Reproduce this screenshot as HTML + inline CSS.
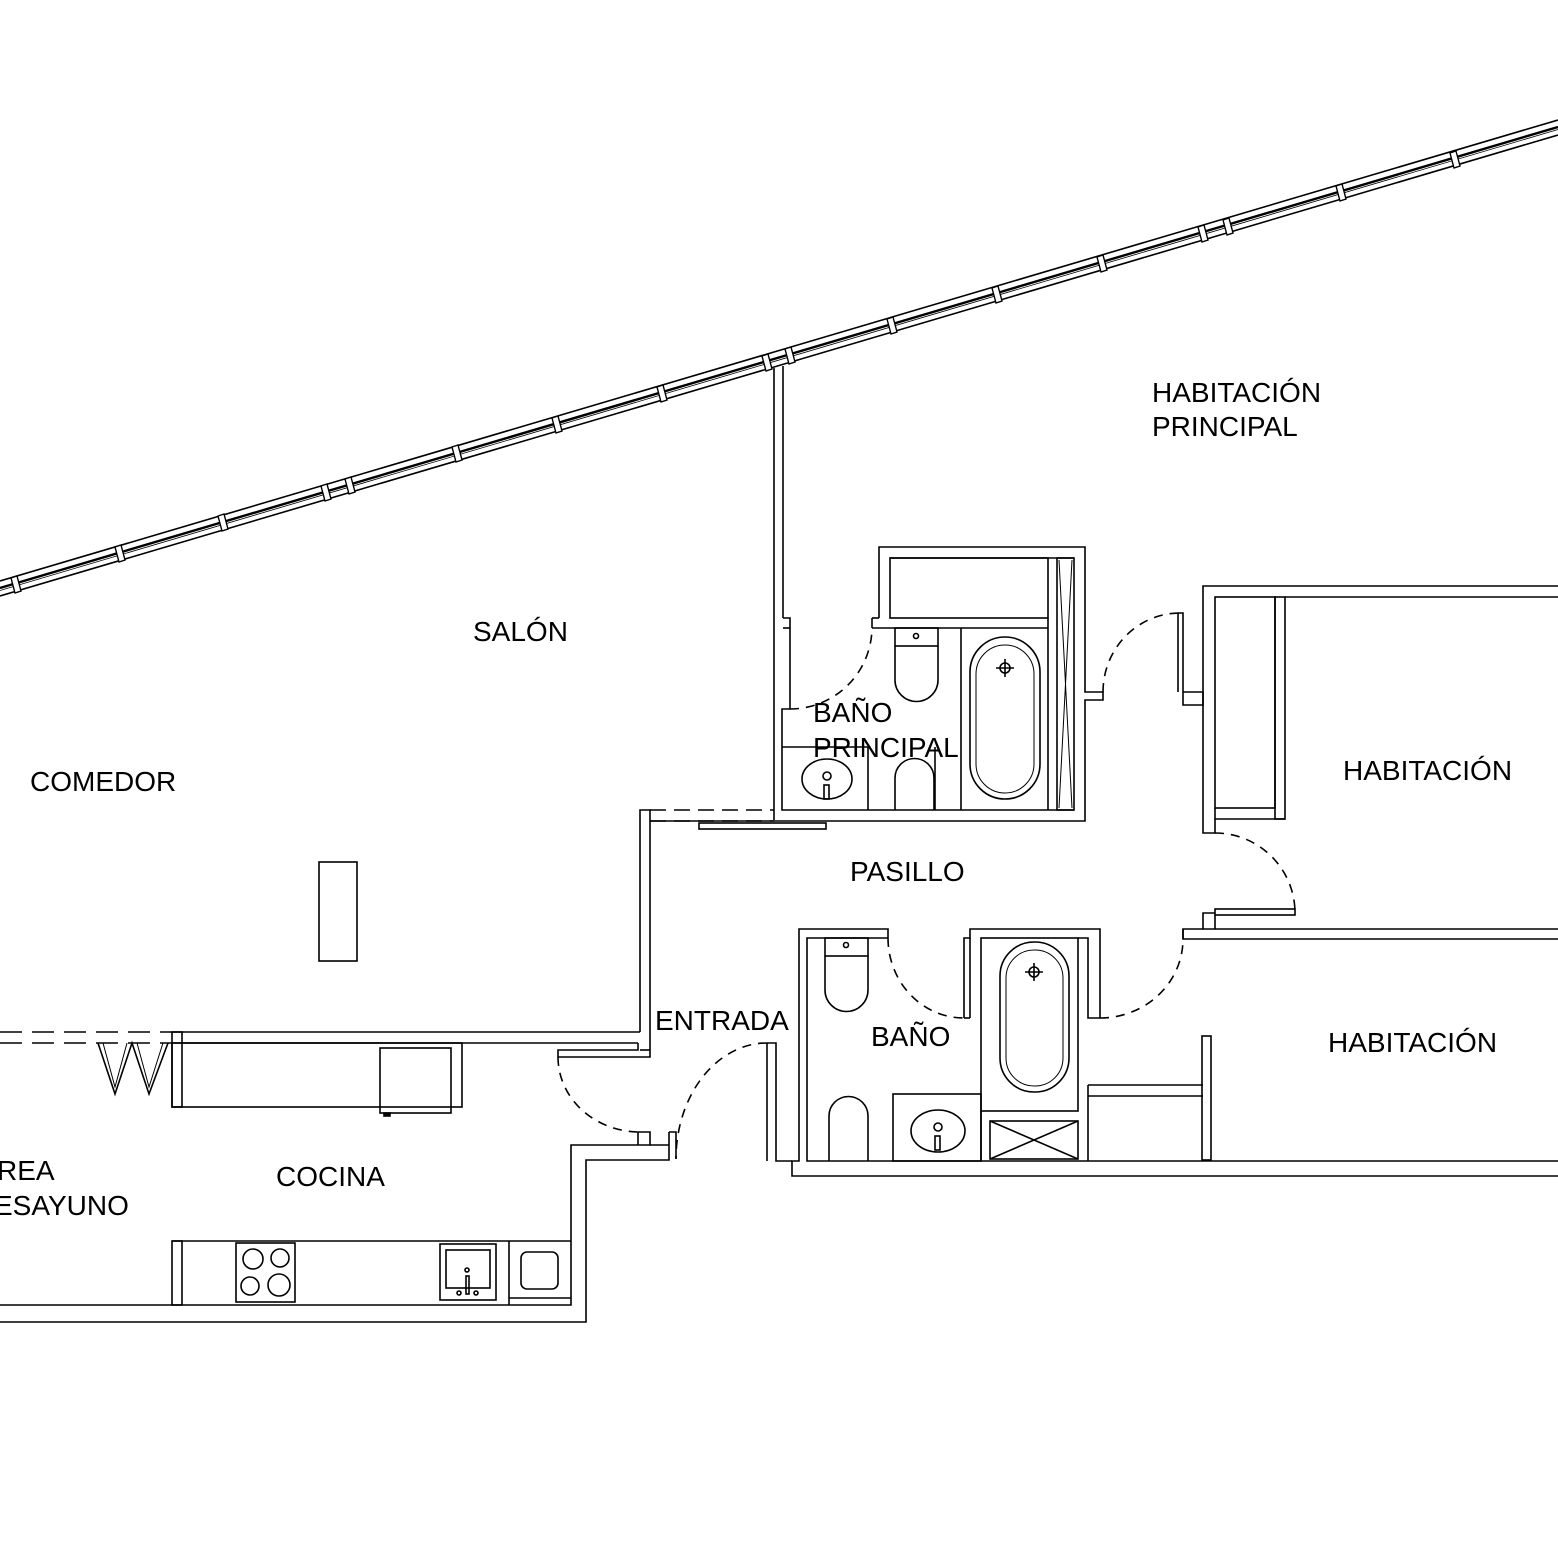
<!DOCTYPE html>
<html><head><meta charset="utf-8"><style>
html,body{margin:0;padding:0;background:#fff}
svg{display:block}
text{font-family:"Liberation Sans",Arial,sans-serif;font-size:28px;fill:#000}
</style></head><body>
<svg width="1558" height="1558" viewBox="0 0 1558 1558" xmlns="http://www.w3.org/2000/svg">
<g fill="none" stroke="#000" stroke-width="1.6">
<line x1="0" y1="581" x2="1558" y2="120"/>
<line x1="0" y1="596" x2="1558" y2="135"/>
<line x1="0" y1="588" x2="1558" y2="127" stroke-width="2.4"/>
<line x1="0" y1="590.5" x2="1558" y2="129.5" stroke-width="0.8"/>
</g>
<g fill="#fff" stroke="#000" stroke-width="1.4">
<polygon points="11,578 17,576 21,591 15,593"/>
<polygon points="115,547 121,545 125,560 119,562"/>
<polygon points="218,516 224,514 228,529 222,531"/>
<polygon points="321,486 327,484 331,499 325,501"/>
<polygon points="345,479 351,477 355,492 349,494"/>
<polygon points="452,447 458,445 462,460 456,462"/>
<polygon points="552,418 558,416 562,431 556,433"/>
<polygon points="657,387 663,385 667,400 661,402"/>
<polygon points="762,356 768,354 772,369 766,371"/>
<polygon points="785,349 791,347 795,362 789,364"/>
<polygon points="887,319 893,317 897,332 891,334"/>
<polygon points="992,288 998,286 1002,301 996,303"/>
<polygon points="1097,257 1103,255 1107,270 1101,272"/>
<polygon points="1198,227 1204,225 1208,240 1202,242"/>
<polygon points="1223,220 1229,218 1233,233 1227,235"/>
<polygon points="1336,186 1342,184 1346,199 1340,201"/>
<polygon points="1450,153 1456,151 1460,166 1454,168"/>
</g>
<g fill="none" stroke="#000" stroke-width="1.6">
<line x1="774" y1="368" x2="774" y2="820"/>
<line x1="783" y1="366" x2="783" y2="618"/>
<polyline points="783,618 790,618 790,709 782,709 782,810 868,810"/>
<line x1="783" y1="628" x2="790" y2="628"/>
<polyline points="879,618 879,547 1085,547 1085,692 1103,692 1103,700 1085,700 1085,821 650,821"/>
<polyline points="872,618 879,618"/>
<line x1="872" y1="618" x2="872" y2="628"/>
<line x1="872" y1="628" x2="1048" y2="628"/>
<line x1="890" y1="558" x2="1074" y2="558"/>
<rect x="890" y="558" width="158" height="60"/>
<rect x="1057" y="558" width="17" height="252"/>
<line x1="1059" y1="560" x2="1072" y2="808" stroke-width="1"/>
<line x1="1072" y1="560" x2="1059" y2="808" stroke-width="1"/>
<line x1="868" y1="810" x2="1074" y2="810"/>
<line x1="961" y1="628" x2="961" y2="810"/>
<line x1="1048" y1="618" x2="1048" y2="810"/>
<rect x="970" y="637" width="70" height="162" rx="35"/>
<rect x="976" y="645" width="58" height="148" rx="29" stroke-width="1"/>
<circle cx="1005" cy="668" r="5"/><line x1="996" y1="668" x2="1014" y2="668"/><line x1="1005" y1="659" x2="1005" y2="677"/>
<rect x="895" y="628" width="43" height="18"/>
<path d="M895,646 V680 A21.5,21.5 0 0 0 938,680 V646"/>
<circle cx="916" cy="636" r="2.5"/>
<line x1="782" y1="747" x2="868" y2="747"/>
<line x1="868" y1="747" x2="868" y2="810"/>
<line x1="935" y1="747" x2="935" y2="810"/>
<path d="M895,810 V778 A19.5,19.5 0 0 1 934,778 V810"/>
<ellipse cx="827" cy="779" rx="25" ry="20"/>
<circle cx="827" cy="776" r="4"/><rect x="824" y="785" width="5" height="14"/>
<path d="M790,709 A82,82 0 0 0 872,628" stroke-dasharray="9,7"/>
<line x1="650" y1="810" x2="774" y2="810" stroke-dasharray="16,8"/>
<line x1="650" y1="821" x2="774" y2="821" stroke-dasharray="16,8"/>
<rect x="699" y="823" width="127" height="6"/>
<polyline points="650,1050 650,810 640,810 640,1032"/>
<polyline points="1178,613 1183,613 1183,692 1203,692 1203,705 1183,705 1183,692"/>
<line x1="1178" y1="613" x2="1178" y2="692"/>
<path d="M1103,692 A77,79 0 0 1 1180,613" stroke-dasharray="9,7"/>
<polyline points="1203,705 1203,586 1558,586"/>
<line x1="1285" y1="597" x2="1558" y2="597"/>
<rect x="1215" y="597" width="60" height="211"/>
<rect x="1275" y="597" width="10" height="222"/>
<polyline points="1215,808 1215,819 1285,819"/>
<polyline points="1203,705 1203,833 1215,833 1215,819"/>
<path d="M1215,833 A80,80 0 0 1 1295,913" stroke-dasharray="9,7"/>
<rect x="1215" y="909" width="80" height="6"/>
<polyline points="1215,915 1215,929 1203,929 1203,913 1215,913"/>
<line x1="1215" y1="929" x2="1558" y2="929"/>
<polyline points="1203,929 1183,929 1183,939 1558,939"/>
<polyline points="888,938 807,938 807,1161 1078,1161"/>
<polyline points="888,938 888,929 799,929 799,1161 792,1161 792,1176 1558,1176"/>
<polyline points="964,1018 964,938 970,938 970,929 1100,929 1100,1018 1088,1018 1088,938 1078,938"/>
<line x1="970" y1="938" x2="970" y2="1018"/>
<line x1="964" y1="1018" x2="970" y2="1018"/>
<path d="M888,938 A76,80 0 0 0 964,1018" stroke-dasharray="9,7"/>
<path d="M1100,1018 A83,79 0 0 0 1183,939" stroke-dasharray="9,7"/>
<line x1="1183" y1="929" x2="1183" y2="939"/>
<rect x="981" y="938" width="97" height="173"/>
<rect x="1000" y="942" width="69" height="150" rx="34"/>
<rect x="1006" y="950" width="57" height="136" rx="28" stroke-width="1"/>
<circle cx="1034" cy="972" r="5"/><line x1="1025" y1="972" x2="1043" y2="972"/><line x1="1034" y1="963" x2="1034" y2="981"/>
<rect x="990" y="1121" width="88" height="38"/>
<line x1="990" y1="1121" x2="1078" y2="1159"/><line x1="1078" y1="1121" x2="990" y2="1159"/>
<line x1="981" y1="1111" x2="981" y2="1161"/>
<rect x="825" y="938" width="43" height="18"/>
<path d="M825,956 V990 A21.5,21.5 0 0 0 868,990 V956"/>
<circle cx="846" cy="945" r="2.5"/>
<path d="M829,1161 V1116 A19.5,19.5 0 0 1 868,1116 V1161"/>
<rect x="893" y="1094" width="88" height="67"/>
<ellipse cx="938" cy="1131" rx="27" ry="21"/>
<circle cx="938" cy="1127" r="4"/><rect x="935" y="1136" width="5" height="14"/>
<line x1="1088" y1="1085" x2="1088" y2="1161"/>
<line x1="1088" y1="1085" x2="1203" y2="1085"/>
<line x1="1088" y1="1096" x2="1203" y2="1096"/>
<rect x="1202" y="1036" width="9" height="124"/>
<line x1="1078" y1="1161" x2="1558" y2="1161"/>
<polyline points="767,1043 776,1043 776,1161 792,1161"/>
<line x1="767" y1="1043" x2="767" y2="1161"/>
<path d="M767,1043 A91,116 0 0 0 676,1159" stroke-dasharray="9,7"/>
<polyline points="669,1132 669,1160 586,1160 586,1322 0,1322"/>
<polyline points="676,1159 676,1132 669,1132"/>
<polyline points="650,1145 669,1145"/>
<polyline points="638,1132 650,1132 650,1145 571,1145 571,1305 0,1305"/>
<line x1="638" y1="1132" x2="638" y2="1145"/>
<line x1="172" y1="1032" x2="640" y2="1032"/>
<line x1="172" y1="1043" x2="638" y2="1043"/>
<polyline points="638,1043 638,1050 558,1050 558,1057 650,1057 650,1050"/>
<line x1="650" y1="1050" x2="640" y2="1050"/>
<path d="M558,1057 A82,75 0 0 0 640,1132" stroke-dasharray="9,7"/>
<line x1="0" y1="1032" x2="172" y2="1032" stroke-dasharray="22,10"/>
<line x1="0" y1="1043" x2="172" y2="1043" stroke-dasharray="22,10"/>
<rect x="172" y="1032" width="10" height="75"/>
<rect x="172" y="1043" width="290" height="64"/>
<rect x="380" y="1048" width="71" height="65"/>
<rect x="384" y="1113" width="6" height="3" fill="#000"/>
<polyline points="98,1043 115,1094 132,1043 149,1094 168,1043"/>
<polyline points="103,1043 115,1087 127,1043" stroke-width="1"/>
<polyline points="137,1043 149,1087 163,1043" stroke-width="1"/>
<line x1="172" y1="1241" x2="571" y2="1241"/>
<rect x="172" y="1241" width="10" height="64"/>
<rect x="236" y="1243" width="59" height="59"/>
<circle cx="253" cy="1259" r="10"/><circle cx="280" cy="1258" r="9"/>
<circle cx="250" cy="1286" r="9"/><circle cx="279" cy="1285" r="11"/>
<rect x="440" y="1244" width="56" height="56"/>
<rect x="446" y="1250" width="44" height="38"/>
<circle cx="467" cy="1270" r="2"/><rect x="466" y="1276" width="3" height="18"/>
<circle cx="459" cy="1293" r="2"/><circle cx="476" cy="1293" r="2"/>
<line x1="509" y1="1241" x2="509" y2="1305"/>
<rect x="521" y="1252" width="37" height="37" rx="6"/>
<line x1="509" y1="1298" x2="571" y2="1298"/>
<rect x="319" y="862" width="38" height="99"/>
</g>
<text x="1152" y="402">HABITACIÓN</text>
<text x="1152" y="436">PRINCIPAL</text>
<text x="473" y="641">SALÓN</text>
<text x="30" y="791">COMEDOR</text>
<text x="813" y="722">BAÑO</text>
<text x="813" y="757">PRINCIPAL</text>
<text x="850" y="881">PASILLO</text>
<text x="655" y="1030">ENTRADA</text>
<text x="871" y="1046">BAÑO</text>
<text x="1343" y="780">HABITACIÓN</text>
<text x="1328" y="1052">HABITACIÓN</text>
<text x="276" y="1186">COCINA</text>
<text x="-3" y="1180">REA</text>
<text x="-6" y="1215">ESAYUNO</text>
</svg>
</body></html>
